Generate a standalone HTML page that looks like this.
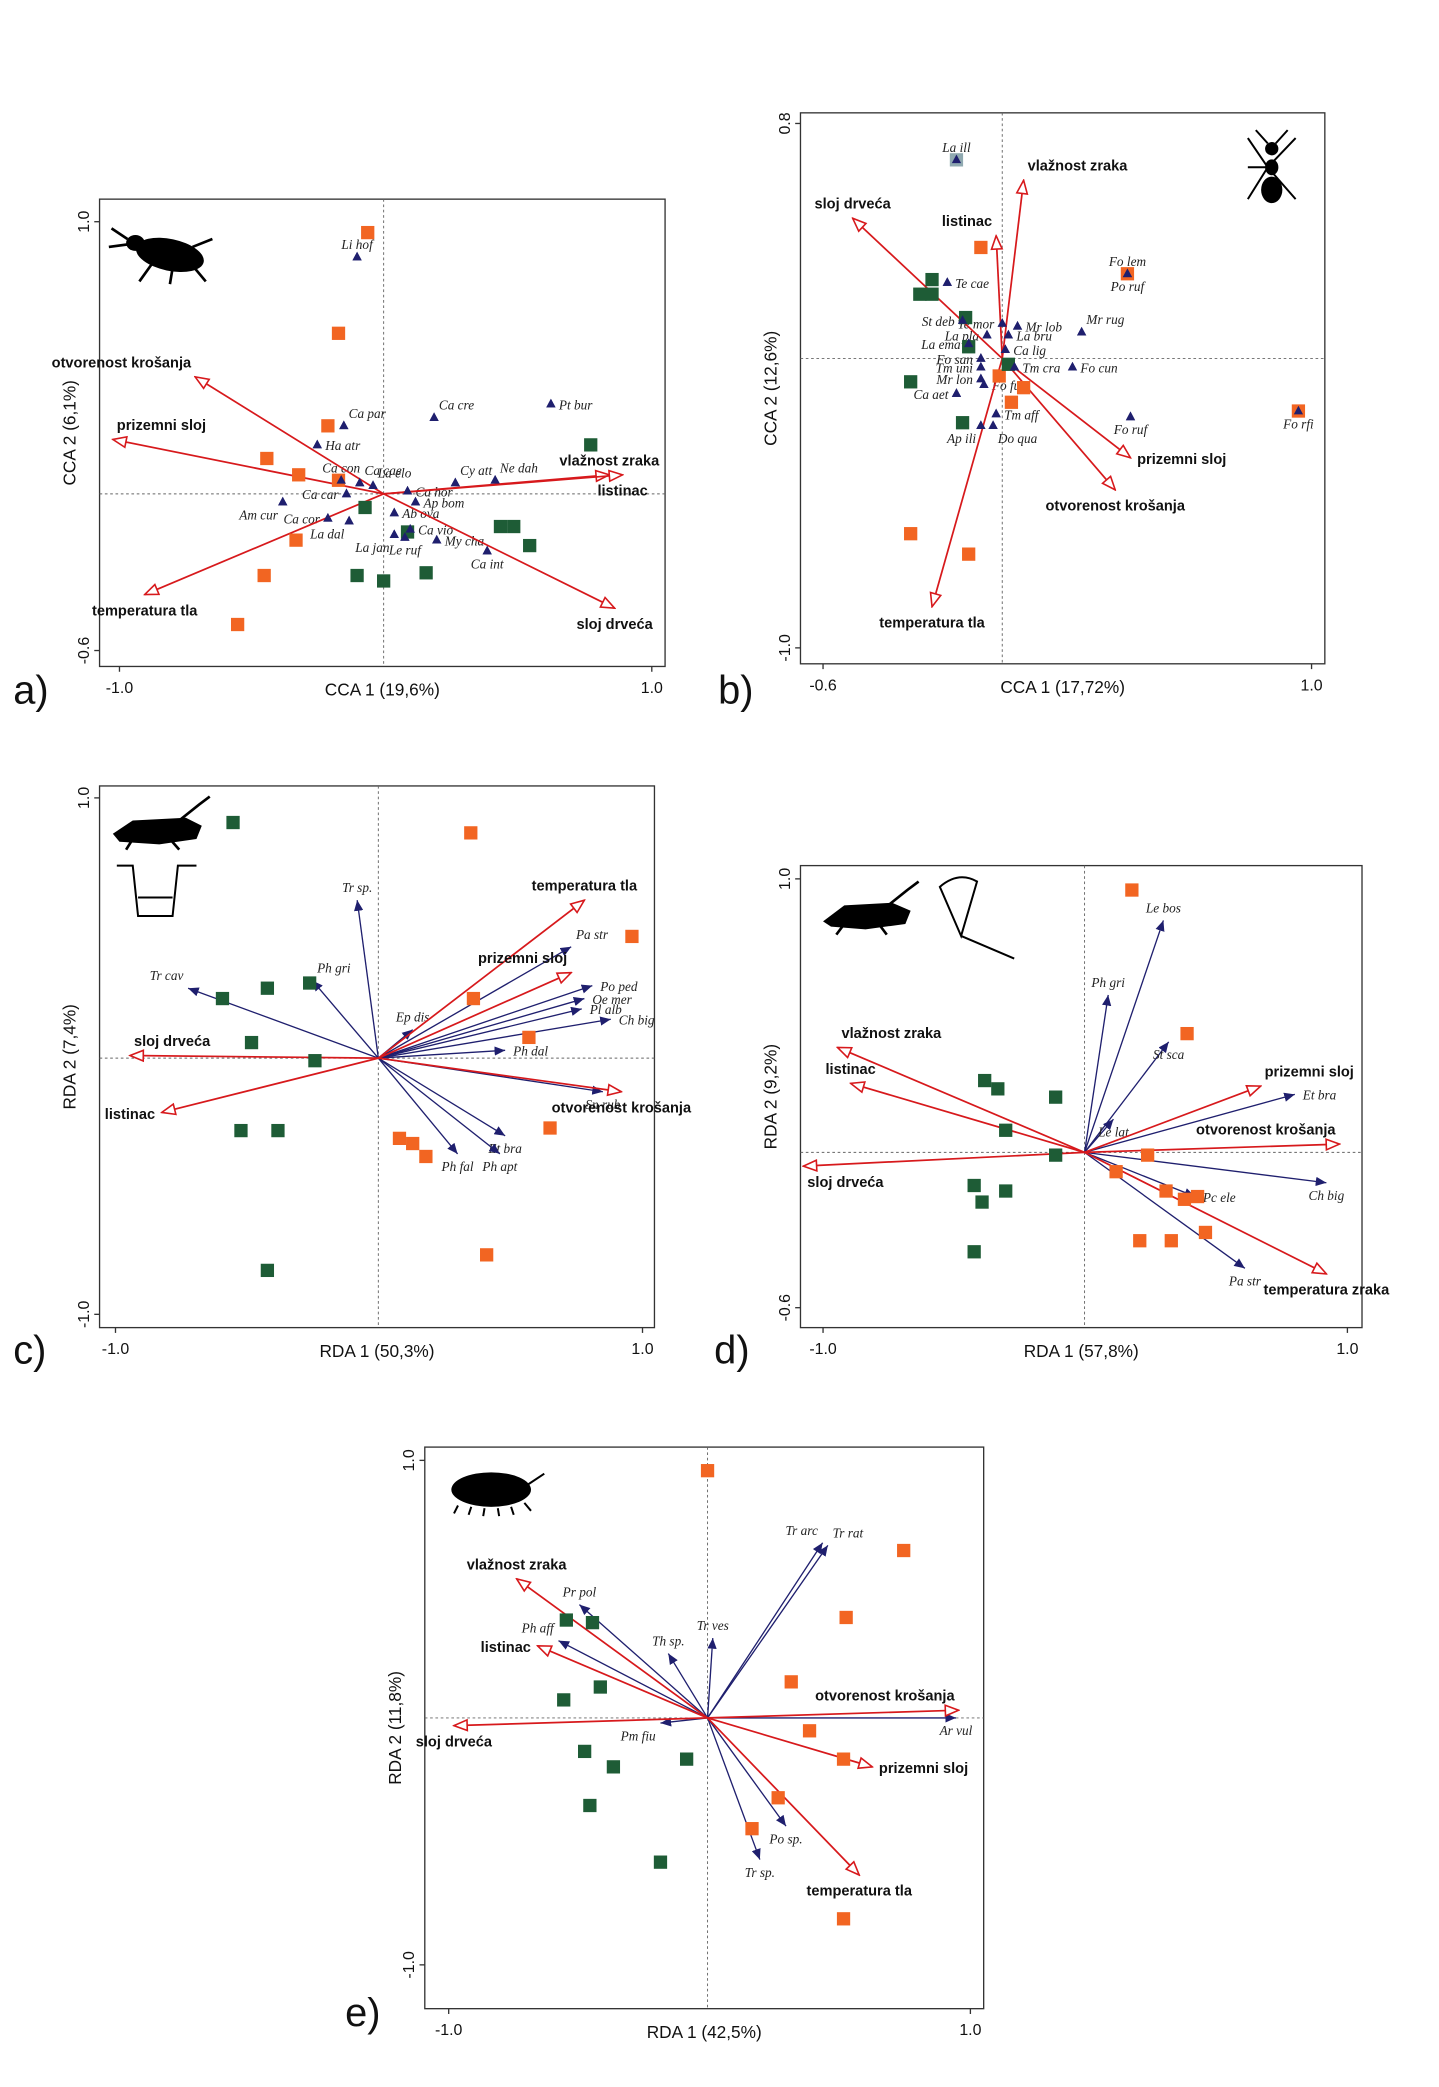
<!DOCTYPE html>
<html><head><meta charset="utf-8"><style>
html,body{margin:0;padding:0;background:#fff;}
svg{display:block;}
text{font-family:"Liberation Sans",sans-serif;}
.sp{font-family:"Liberation Serif",serif;font-style:italic;font-size:10px;fill:#222;}
.env{font-weight:bold;font-size:11px;fill:#111;}
.tick{font-size:12px;fill:#111;}
.ttl{font-size:13px;fill:#111;}
.let{font-size:30px;fill:#111;}
</style></head><body>
<svg id="chart" xmlns="http://www.w3.org/2000/svg" width="1439" height="2087" viewBox="0 0 1084 1572" preserveAspectRatio="none">
<defs>
<marker id="redHead" markerWidth="12" markerHeight="10" refX="11" refY="5" orient="auto" markerUnits="userSpaceOnUse"><path d="M1,1 L11,5 L1,9 Z" fill="#fff" stroke="#d7191c" stroke-width="1.2"/></marker>
<marker id="blueHead" markerWidth="9" markerHeight="7" refX="8" refY="3.5" orient="auto" markerUnits="userSpaceOnUse"><path d="M0,0 L8,3.5 L0,7 Z" fill="#1f1f6e"/></marker>
</defs>
<g id="icons">
<g fill="#000"><ellipse cx="128" cy="192" rx="26" ry="12" transform="rotate(12 128 192)"/><ellipse cx="102" cy="183" rx="7" ry="6"/><path d="M96,180 L84,172 M97,184 L82,186 M115,198 L105,212 M130,202 L128,214 M145,200 L155,212 M145,186 L160,180" stroke="#000" stroke-width="2"/></g>
<g fill="#000"><ellipse cx="958" cy="143" rx="8" ry="10"/><ellipse cx="958" cy="126" rx="5" ry="6"/><ellipse cx="958" cy="112" rx="5" ry="5"/><path d="M940,104 L955,126 L976,104 M940,126 L961,126 M940,150 L955,126 L976,150 M955,108 L946,98 M961,108 L970,98" stroke="#000" stroke-width="1.5" fill="none"/></g>
<g><path d="M85,628 L100,618 L140,616 L152,622 L148,632 L120,636 L90,634 Z" fill="#000"/><path d="M120,630 L150,606 L158,600 M100,632 L95,640 M128,632 L135,640" stroke="#000" stroke-width="2"/><path d="M88,652 L100,652 L104,690 L130,690 L134,652 L148,652 M104,676 L130,676" stroke="#000" stroke-width="1.5" fill="none"/></g>
<g><path d="M620,694 L636,682 L672,680 L686,686 L682,696 L652,700 L626,698 Z" fill="#000"/><path d="M654,694 L684,670 L692,664 M636,696 L630,704 M662,696 L668,704" stroke="#000" stroke-width="2"/><path d="M708,668 Q722,656 736,664 L724,705 Z M724,705 L764,722" stroke="#000" stroke-width="1.5" fill="none"/></g>
<g><ellipse cx="370" cy="1122" rx="30" ry="13" fill="#000"/><path d="M345,1134 L342,1140 M355,1135 L353,1141 M365,1136 L364,1142 M375,1136 L376,1142 M385,1135 L387,1141 M395,1132 L400,1138 M398,1118 L410,1110" stroke="#000" stroke-width="1.5"/></g>
</g>
</svg>
<script>
// ===== Panel a (CCA) =====
const aOrange=[[-0.06,0.96],[-0.17,0.59],[-0.21,0.25],[-0.44,0.13],[-0.32,0.07],[-0.17,0.05],[-0.33,-0.17],[-0.45,-0.30],[-0.55,-0.48]];
const aGreen=[[0.78,0.18],[-0.07,-0.05],[0.44,-0.12],[0.49,-0.12],[0.09,-0.14],[0.55,-0.19],[-0.10,-0.30],[0.00,-0.32],[0.16,-0.29]];
const aSpecies=[["Li hof",-0.10,0.87,"a"],["Ca par",-0.15,0.25,"ar"],["Ha atr",-0.25,0.18,"r"],["Ca cre",0.19,0.28,"ar"],["Pt bur",0.63,0.33,"r"],["Ca con",-0.16,0.05,"a"],["Ca cae",-0.09,0.04,"ar"],["La elo",-0.04,0.03,"ar"],["Ca hor",0.09,0.01,"r"],["Cy att",0.27,0.04,"ar"],["Ne dah",0.42,0.05,"ar"],["Ap bom",0.12,-0.03,"r"],["Ca car",-0.14,0.00,"l"],["Ca cor",-0.21,-0.09,"l"],["Am cur",-0.38,-0.03,"bl"],["Ab ova",0.04,-0.07,"r"],["Ca vio",0.10,-0.13,"r"],["La dal",-0.13,-0.10,"bl"],["La jan",0.04,-0.15,"bl"],["My cha",0.20,-0.17,"r"],["Le ruf",0.08,-0.16,"b"],["Ca int",0.39,-0.21,"b"]];
const aEnv=[["otvorenost krošanja",-0.71,0.43,"al"],["prizemni sloj",-1.02,0.20,"ar"],["temperatura tla",-0.90,-0.37,"b"],["vlažnost zraka",0.85,0.07,"a"],["listinac",0.90,0.07,"b"],["sloj drveća",0.87,-0.42,"b"]];
const aTicksX=["-1.0","1.0"], aTicksY=["1.0","-0.6"];
// ===== Panel b (CCA) =====
const bOrange=[[-0.07,0.38],[0.41,0.29],[-0.01,-0.06],[0.03,-0.15],[0.07,-0.10],[0.97,-0.18],[-0.30,-0.60],[-0.11,-0.67]];
const bGreen=[[-0.23,0.27],[-0.27,0.22],[-0.23,0.22],[-0.12,0.14],[-0.11,0.04],[0.02,-0.02],[-0.30,-0.08],[-0.13,-0.22]];
const bGrey=[[-0.15,0.68]];
const bSpecies=[["La ill",-0.15,0.68,"a"],["Te cae",-0.18,0.26,"r"],["St deb",-0.13,0.13,"l"],["Te mor",0.00,0.12,"l"],["Mr lob",0.05,0.11,"r"],["La pla",-0.05,0.08,"l"],["La bru",0.02,0.08,"r"],["La ema",-0.11,0.05,"l"],["Ca lig",0.01,0.03,"r"],["Fo san",-0.07,0.00,"l"],["Tm uni",-0.07,-0.03,"l"],["Tm cra",0.04,-0.03,"r"],["Mr lon",-0.07,-0.07,"l"],["Fo fus",-0.06,-0.09,"r"],["Ca aet",-0.15,-0.12,"l"],["Tm aff",-0.02,-0.19,"r"],["Ap ili",-0.07,-0.23,"bl"],["Do qua",-0.03,-0.23,"br"],["Mr rug",0.26,0.09,"ar"],["Fo cun",0.23,-0.03,"r"],["Fo lem",0.41,0.29,"a"],["Po ruf",0.41,0.29,"b"],["Fo ruf",0.42,-0.20,"b"],["Fo rfi",0.97,-0.18,"b"]];
const bEnv=[["sloj drveća",-0.49,0.48,"a"],["listinac",-0.02,0.42,"al"],["vlažnost zraka",0.07,0.61,"ar"],["prizemni sloj",0.42,-0.34,"r"],["otvorenost krošanja",0.37,-0.45,"b"],["temperatura tla",-0.23,-0.85,"b"]];
const bTicksX=["-0.6","1.0"], bTicksY=["0.8","-1.0"];
// ===== Panel c (RDA) =====
const cOrange=[[0.35,0.87],[0.96,0.47],[0.36,0.23],[0.57,0.08],[0.08,-0.31],[0.13,-0.33],[0.18,-0.38],[0.65,-0.27],[0.41,-0.76]];
const cGreen=[[-0.55,0.91],[-0.59,0.23],[-0.42,0.27],[-0.26,0.29],[-0.48,0.06],[-0.24,-0.01],[-0.52,-0.28],[-0.38,-0.28],[-0.42,-0.82]];
const cSpecies=[["Tr sp.",-0.08,0.61,"a"],["Tr cav",-0.72,0.27,"al"],["Ph gri",-0.25,0.30,"ar"],["Ep dis",0.13,0.11,"a"],["Pa str",0.73,0.43,"ar"],["Po ped",0.81,0.28,"r"],["Oe mer",0.78,0.23,"r"],["Pl alb",0.77,0.19,"r"],["Ch big",0.88,0.15,"r"],["Ph dal",0.48,0.03,"r"],["Sn rub",0.85,-0.13,"b"],["Et bra",0.48,-0.30,"b"],["Ph apt",0.46,-0.37,"b"],["Ph fal",0.30,-0.37,"b"]];
const cEnv=[["temperatura tla",0.78,0.61,"a"],["prizemni sloj",0.73,0.33,"al"],["sloj drveća",-0.94,0.01,"ar"],["listinac",-0.82,-0.21,"l"],["otvorenost krošanja",0.92,-0.13,"b"]];
const cTicksX=["-1.0","1.0"], cTicksY=["1.0","-1.0"];
// ===== Panel d (RDA) =====
const dOrange=[[0.18,0.95],[0.39,0.43],[0.24,-0.01],[0.12,-0.07],[0.31,-0.14],[0.38,-0.17],[0.43,-0.16],[0.46,-0.29],[0.21,-0.32],[0.33,-0.32]];
const dGreen=[[-0.38,0.26],[-0.33,0.23],[-0.11,0.20],[-0.30,0.08],[-0.11,-0.01],[-0.42,-0.12],[-0.39,-0.18],[-0.30,-0.14],[-0.42,-0.36]];
const dSpecies=[["Le bos",0.30,0.84,"a"],["Ph gri",0.09,0.57,"a"],["St sca",0.32,0.40,"b"],["Et bra",0.80,0.21,"r"],["Le lat",0.11,0.12,"b"],["Ch big",0.92,-0.11,"b"],["Pc ele",0.42,-0.16,"r"],["Pa str",0.61,-0.42,"b"]];
const dEnv=[["vlažnost zraka",-0.94,0.38,"ar"],["listinac",-0.89,0.25,"a"],["sloj drveća",-1.07,-0.05,"br"],["prizemni sloj",0.67,0.24,"ar"],["otvorenost krošanja",0.97,0.03,"al"],["temperatura zraka",0.92,-0.44,"b"]];
const dTicksX=["-1.0","1.0"], dTicksY=["1.0","-0.6"];
// ===== Panel e (RDA) =====
const eOrange=[[0.00,0.96],[0.75,0.65],[0.53,0.39],[0.32,0.14],[0.39,-0.05],[0.52,-0.16],[0.27,-0.31],[0.17,-0.43],[0.52,-0.78]];
const eGreen=[[-0.54,0.38],[-0.44,0.37],[-0.41,0.12],[-0.55,0.07],[-0.47,-0.13],[-0.36,-0.19],[-0.08,-0.16],[-0.45,-0.34],[-0.18,-0.56]];
const eSpecies=[["Tr arc",0.44,0.68,"al"],["Tr rat",0.46,0.67,"ar"],["Tr ves",0.02,0.31,"a"],["Pr pol",-0.49,0.44,"a"],["Th sp.",-0.15,0.25,"a"],["Ph aff",-0.57,0.30,"al"],["Pm fiu",-0.18,-0.02,"bl"],["Ar vul",0.95,0.00,"b"],["Po sp.",0.30,-0.42,"b"],["Tr sp.",0.20,-0.55,"b"]];
const eEnv=[["vlažnost zraka",-0.73,0.54,"a"],["listinac",-0.65,0.28,"l"],["sloj drveća",-0.97,-0.03,"b"],["otvorenost krošanja",0.96,0.03,"al"],["prizemni sloj",0.63,-0.19,"r"],["temperatura tla",0.58,-0.61,"b"]];
const eTicksX=["-1.0","1.0"], eTicksY=["1.0","-1.0"];

const svg=document.getElementById('chart');
const NS="http://www.w3.org/2000/svg";
function mk(tag,attrs,parent,txt){const e=document.createElementNS(NS,tag);for(const k in attrs)e.setAttribute(k,attrs[k]);if(txt!==undefined)e.textContent=txt;parent.appendChild(e);return e;}
const POS={a:[0,-6,"middle"],b:[0,13,"middle"],l:[-5,4,"end"],r:[5,4,"start"],al:[-3,-6,"end"],ar:[3,-6,"start"],bl:[-3,13,"end"],br:[3,13,"start"]};

const panels=[
 {id:"a",L:75,T:150,R:501,B:502,cx:289,cy:372,sx:200,sy:205,tx:[90,491],ty:[167,490],xt:"CCA 1 (19,6%)",yt:"CCA 2 (6,1%)",let:[22,520],orange:aOrange,green:aGreen,grey:[],sp:aSpecies,env:aEnv,ticksX:aTicksX,ticksY:aTicksY,tri:true},
 {id:"b",L:603,T:85,R:998,B:500,cx:755,cy:270,sx:230,sy:220,tx:[620,988],ty:[93,488],xt:"CCA 1 (17,72%)",yt:"CCA 2 (12,6%)",let:[553,520],orange:bOrange,green:bGreen,grey:bGrey,sp:bSpecies,env:bEnv,ticksX:bTicksX,ticksY:bTicksY,tri:true},
 {id:"c",L:75,T:592,R:493,B:1000,cx:285,cy:797,sx:199,sy:195,tx:[87,484],ty:[601,990],xt:"RDA 1 (50,3%)",yt:"RDA 2 (7,4%)",let:[22,1017],orange:cOrange,green:cGreen,grey:[],sp:cSpecies,env:cEnv,ticksX:cTicksX,ticksY:cTicksY,tri:false},
 {id:"d",L:603,T:652,R:1026,B:1000,cx:817,cy:868,sx:198,sy:208,tx:[620,1015],ty:[662,985],xt:"RDA 1 (57,8%)",yt:"RDA 2 (9,2%)",let:[550,1017],orange:dOrange,green:dGreen,grey:[],sp:dSpecies,env:dEnv,ticksX:dTicksX,ticksY:dTicksY,tri:false},
 {id:"e",L:320,T:1090,R:741,B:1513,cx:533,cy:1294,sx:197,sy:194,tx:[338,731],ty:[1100,1480],xt:"RDA 1 (42,5%)",yt:"RDA 2 (11,8%)",let:[272,1516],orange:eOrange,green:eGreen,grey:[],sp:eSpecies,env:eEnv,ticksX:eTicksX,ticksY:eTicksY,tri:false}
];

panels.forEach(p=>{
 const X=v=>p.cx+v*p.sx, Y=v=>p.cy-v*p.sy;
 const g=mk('g',{},svg);
 
 
 const fr=mk('rect',{x:p.L,y:p.T,width:p.R-p.L,height:p.B-p.T,fill:"none",stroke:"#333","stroke-width":1},g);
 
 
 const hz=mk('line',{x1:p.L,x2:p.R,y1:p.cy,y2:p.cy,stroke:"#666","stroke-width":0.7,"stroke-dasharray":"2,2"},g);
 
 
 const vt=mk('line',{x1:p.cx,x2:p.cx,y1:p.T,y2:p.B,stroke:"#666","stroke-width":0.7,"stroke-dasharray":"2,2"},g);
 
 
 // ticks
 p.ticksX.forEach((t,i)=>{const x=p.tx[i];
  mk('line',{x1:x,x2:x,y1:p.B,y2:p.B+4,stroke:"#333"},g);
  const e=mk('text',{x:x,y:p.B+20,"text-anchor":"middle",class:"tick"},g,t);
  
  });
 p.ticksY.forEach((t,i)=>{const y=p.ty[i];
  mk('line',{x1:p.L-4,x2:p.L,y1:y,y2:y,stroke:"#333"},g);
  const e=mk('text',{x:p.L-8,y:y,"text-anchor":"middle",class:"tick",transform:`rotate(-90 ${p.L-8} ${y})`},g,t);
  
  });
 const xt=mk('text',{x:(p.L+p.R)/2,y:p.B+22,"text-anchor":"middle",class:"ttl"},g,p.xt);
 
 
 const ym=(p.T+p.B)/2;
 const yt=mk('text',{x:p.L-18,y:ym,"text-anchor":"middle",class:"ttl",transform:`rotate(-90 ${p.L-18} ${ym})`},g,p.yt);
 
 
 const lt=mk('text',{x:p.let[0]-12,y:p.let[1]+10,class:"let"},g,p.id+")");
 
 
 // species
 p.sp.forEach(s=>{
  const x=X(s[1]),y=Y(s[2]);
  if(p.tri){
   const t=mk('path',{d:`M${x},${y-4} L${x+3.5},${y+2.5} L${x-3.5},${y+2.5} Z`,fill:"#1f1f6e"},g);
   
   
  } else {
   const a=mk('line',{x1:p.cx,y1:p.cy,x2:x,y2:y,stroke:"#1f1f6e","stroke-width":1,"marker-end":"url(#blueHead)"},g);
   
   
  }
  const o=POS[s[3]];
  const e=mk('text',{x:x+o[0]*1.2,y:y+o[1],"text-anchor":o[2],class:"sp"},g,s[0]);
  
  
 });
 // env arrows
 p.env.forEach(s=>{
  const x=X(s[1]),y=Y(s[2]);
  const a=mk('line',{x1:p.cx,y1:p.cy,x2:x,y2:y,stroke:"#d7191c","stroke-width":1.3,"marker-end":"url(#redHead)"},g);
  
  
  const o=POS[s[3]];
  const e=mk('text',{x:x+o[0],y:y+o[1]*1.2,"text-anchor":o[2],class:"env"},g,s[0]);
  
  
 });
 // sites
 p.orange.forEach(s=>{
  const r=mk('rect',{x:X(s[0])-5,y:Y(s[1])-5,width:10,height:10,fill:"#f26522"},g);
  
  
 });
 p.green.forEach(s=>{
  const r=mk('rect',{x:X(s[0])-5,y:Y(s[1])-5,width:10,height:10,fill:"#1e5c36"},g);
  
  
 });
 p.grey.forEach(s=>{
  const r=mk('rect',{x:X(s[0])-5,y:Y(s[1])-5,width:10,height:10,fill:"#8fa9b0"},g);
  
  
 });
 if(p.tri){ // re-draw triangles on top of squares
  p.sp.forEach(s=>{const x=X(s[1]),y=Y(s[2]);
   const t=mk('path',{d:`M${x},${y-4} L${x+3.5},${y+2.5} L${x-3.5},${y+2.5} Z`,fill:"#1f1f6e"},g);
   
   });
 }
});
</script>
</body></html>
